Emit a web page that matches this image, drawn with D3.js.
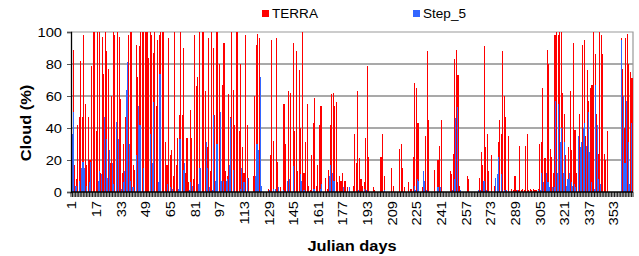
<!DOCTYPE html>
<html><head><meta charset="utf-8">
<script src="https://cdn.jsdelivr.net/npm/d3@7"></script>
<style>body{margin:0;background:#fff;} svg{display:block}</style>
</head><body>
<svg id="chart" width="639" height="256"></svg>
<script>
// ---- data (cloud %, Julian days 1..365) ----
const terra = [
72,89,17,8,42,47,82,47,98,55,
17,47,20,79,100,100,38,100,100,12,
97,74,100,88,77,18,60,100,98,5,
100,97,58,12,30,47,16,98,100,100,
17,14,92,72,91,100,100,100,100,100,
84,100,98,87,100,54,95,98,100,100,
100,31,17,96,23,26,10,100,17,34,
48,100,48,90,12,34,6,51,34,8,
98,66,72,100,15,100,100,63,28,96,
13,100,90,48,100,100,80,46,67,93,
13,10,61,47,100,64,42,100,100,38,
80,28,12,98,42,9,0,0,10,60,
92,99,96,39,0,0,0,0,2,23,
95,32,0,96,19,0,3,0,55,30,
7,63,62,0,93,38,88,13,76,40,
100,12,31,55,4,1,23,43,59,4,
17,42,54,0,0,9,2,14,42,61,
62,54,56,6,10,7,12,7,7,3,
0,0,0,4,36,18,63,21,8,4,
6,34,79,22,0,0,3,1,0,0,
0,22,36,10,0,0,0,0,15,4,
0,0,0,27,30,15,3,0,0,6,
2,2,22,68,65,43,0,0,3,2,
35,88,45,0,0,0,14,0,20,29,
45,0,0,0,0,0,13,11,24,83,
89,73,4,0,0,0,0,10,8,0,
0,0,0,0,0,9,25,17,91,28,
36,13,0,23,0,4,0,31,45,36,
88,60,47,0,35,0,2,1,10,1,
1,29,1,2,1,29,36,1,2,1,
2,1,1,2,30,31,65,21,21,89,
80,27,22,12,98,100,98,100,100,62,
49,23,8,28,63,26,93,39,12,20,
49,21,92,95,35,76,57,65,67,100,
86,49,24,100,98,86,24,20,38,0,
0,0,0,0,0,0,0,96,77,40,
96,99,80,75,71
];
const step5 = [
36,50,4,4,0,7,15,19,15,4,
0,6,19,0,0,0,0,7,13,11,
0,47,33,9,26,0,18,5,0,44,
33,0,2,6,13,64,81,30,7,3,
3,0,23,54,42,0,15,0,0,0,
0,36,18,56,0,0,6,74,0,0,
0,0,5,0,3,2,0,0,0,2,
33,0,14,18,0,0,1,6,4,0,
0,0,5,15,0,0,0,31,15,3,
0,1,48,7,30,0,50,7,7,0,
7,8,17,46,0,14,0,0,0,2,
15,6,6,0,9,0,0,0,0,10,
30,26,72,4,0,0,0,0,1,0,
0,2,2,0,3,0,0,1,0,0,
7,8,0,0,16,0,0,0,11,7,
1,1,0,0,0,0,0,2,0,0,
0,2,5,0,0,0,0,10,17,12,
7,0,0,0,0,0,3,0,0,0,
3,0,0,0,0,0,1,0,0,0,
2,1,0,0,0,0,0,0,0,0,
0,0,0,1,0,0,0,0,0,0,
0,0,0,0,0,0,0,0,0,0,
0,0,4,1,8,7,0,0,13,7,
1,0,0,0,0,0,0,3,3,3,
0,0,0,0,0,0,0,1,8,46,
53,0,1,0,0,0,0,0,0,0,
0,0,0,0,1,1,0,7,7,1,
0,0,0,0,0,9,11,22,0,11,
0,1,1,0,0,0,0,0,0,1,
0,0,0,0,0,0,0,0,0,0,
0,0,0,1,1,12,6,0,12,6,
3,0,3,3,57,12,55,31,40,12,
31,4,8,12,6,4,5,3,0,35,
28,31,40,43,29,50,25,6,0,2,
67,42,8,5,0,0,0,0,0,0,
0,0,0,0,0,0,0,95,60,18,
57,31,5,43,0
];
const tickLabels = [1,17,33,49,65,81,97,113,129,145,161,177,193,209,225,241,257,273,289,305,321,337,353];
const yTickValues = [0,20,40,60,80,100];
const seriesNames = ["TERRA","Step_5"];
const seriesColors = ["#ff0000","#3366ff"];
const xTitle = "Julian days";
const yTitle = "Cloud (%)";

// ---- layout ----
const svg = d3.select("#chart");
const P = {left:71, right:633, top:32, bottom:192};
const days = d3.range(1, terra.length + 1);
const x = d3.scaleBand().domain(days).range([P.left, P.right]).padding(0);
const y = d3.scaleLinear().domain([0,100]).range([P.bottom, P.top]);
const bw = x.bandwidth();
const FONT = "'Liberation Sans', Arial, sans-serif";
const SX = 1.13; // glyph stretch along text direction

function stext(px, py, rot, txt, size, weight, anchor, dy) {
  svg.append("text")
    .attr("transform", `translate(${px},${py}) rotate(${rot}) scale(${SX},1)`)
    .attr("text-anchor", anchor)
    .attr("dy", dy || 0)
    .attr("font-family", FONT)
    .attr("font-size", size)
    .attr("font-weight", weight)
    .attr("fill", "#000")
    .text(txt);
}

// gridlines
svg.append("g").selectAll("line").data(yTickValues.filter(v => v > 0 && v < 100)).join("line")
  .attr("x1", P.left).attr("x2", P.right)
  .attr("y1", d => y(d)).attr("y2", d => y(d))
  .attr("stroke", "#555").attr("stroke-width", 1.2);
// plot frame top/right
svg.append("path")
  .attr("d", `M${P.left},${y(100)}H${P.right}V${P.bottom}`)
  .attr("fill", "none").attr("stroke", "#999").attr("stroke-width", 1.2);

// bars
const gBars = svg.append("g").attr("shape-rendering", "crispEdges");
gBars.selectAll("rect.t").data(terra).join("rect").attr("class","t")
  .attr("x", (d,i) => x(days[i]))
  .attr("width", bw * 0.7)
  .attr("y", d => y(d))
  .attr("height", d => y(0) - y(d))
  .attr("fill", seriesColors[0]);
gBars.selectAll("rect.s").data(step5).join("rect").attr("class","s")
  .attr("x", (d,i) => x(days[i]) + bw * 0.45)
  .attr("width", bw * 0.7)
  .attr("y", d => y(d))
  .attr("height", d => y(0) - y(d))
  .attr("fill", seriesColors[1]);

// y axis
const yAxis = d3.axisLeft(y).tickValues(yTickValues).tickSize(4).tickFormat("");
const gy = svg.append("g").attr("transform", `translate(${P.left},0)`).call(yAxis);
gy.select(".domain").attr("stroke", "#000").attr("stroke-width", 1.3);
gy.selectAll(".tick line").attr("stroke", "#555");
yTickValues.forEach(v => stext(62, y(v), 0, String(v), 13, "normal", "end", "0.36em"));

// x axis with a tick at every category boundary
const gx = svg.append("g");
gx.selectAll("line").data(d3.range(0, days.length + 1)).join("line")
  .attr("x1", i => P.left + i * bw).attr("x2", i => P.left + i * bw)
  .attr("y1", P.bottom).attr("y2", P.bottom + 5)
  .attr("stroke", "#000").attr("stroke-width", 0.9);
gx.append("line").attr("x1", P.left).attr("x2", P.right)
  .attr("y1", P.bottom).attr("y2", P.bottom).attr("stroke", "#000").attr("stroke-width", 1.3);
tickLabels.forEach(t => stext(x(t) + bw / 2, 201, -90, String(t), 13, "normal", "end", "0.36em"));

// titles
stext((P.left + P.right) / 2, 251, 0, xTitle, 14.5, "bold", "middle", 0);
stext(31, 123, -90, yTitle, 14.5, "bold", "middle", 0);

// legend
const legX = [262, 413];
seriesNames.forEach((n, i) => {
  svg.append("rect").attr("x", legX[i]).attr("y", 10).attr("width", 7).attr("height", 7)
    .attr("fill", seriesColors[i]);
  stext(legX[i] + 10, 18, 0, n, 12, "normal", "start", 0);
});
</script>
</body></html>
